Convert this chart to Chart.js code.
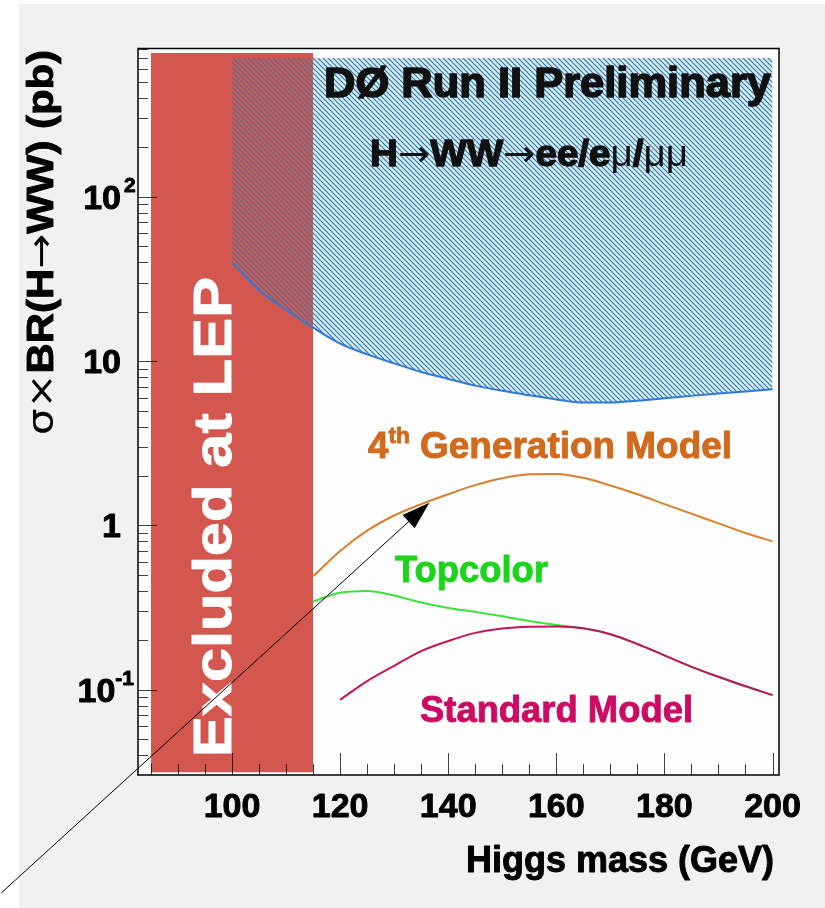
<!DOCTYPE html>
<html>
<head>
<meta charset="utf-8">
<script src="https://cdn.jsdelivr.net/npm/chart.js@4/dist/chart.umd.min.js"></script>
<style>
html, body { margin: 0; padding: 0; background: #fff; }
#wrap { position: absolute; left: 0; top: 0; width: 825px; height: 908px; }
</style>
</head>
<body>
<div id="wrap"><canvas id="higgsChart" width="825" height="908"></canvas></div>
<script>
// values (GeV, pb)
const limitMass = [100, 105, 110, 115, 120, 125, 130, 135, 140, 145, 150, 155, 160, 165, 170, 175, 180, 185, 190, 195, 200];
const limitXsec = [40, 27, 20.5, 16, 12.8, 11.0, 9.7, 8.6, 7.8, 7.1, 6.6, 6.2, 5.85, 5.6, 5.6, 5.75, 5.95, 6.15, 6.35, 6.55, 6.75];
const hatchTop = 700;

const lepMass = [85, 115];
const lepTop = 750;
const lepBottom = 0.0315;

const fourthGenMass = [115, 120, 125, 130, 135, 140, 145, 150, 155, 160, 165, 170, 175, 180, 185, 190, 195, 200];
const fourthGenXsec = [0.49, 0.70, 0.93, 1.15, 1.35, 1.55, 1.76, 1.94, 2.05, 2.06, 1.95, 1.75, 1.55, 1.35, 1.18, 1.03, 0.90, 0.80];

const topcolorMass = [115, 120, 125, 130, 135, 140, 145, 150, 155, 160, 165, 170, 175, 180, 185, 190, 195, 200];
const topcolorXsec = [0.345, 0.39, 0.40, 0.375, 0.34, 0.315, 0.298, 0.28, 0.262, 0.248, 0.237, 0.218, 0.19, 0.162, 0.138, 0.12, 0.105, 0.093];

const smMass = [120, 125, 130, 135, 140, 145, 150, 155, 160, 165, 170, 175, 180, 185, 190, 195, 200];
const smXsec = [0.087, 0.113, 0.14, 0.172, 0.198, 0.222, 0.236, 0.242, 0.243, 0.237, 0.218, 0.19, 0.162, 0.138, 0.12, 0.105, 0.093];

const xTickValues = [100, 120, 140, 160, 180, 200];
const xTickLabels = ['100', '120', '140', '160', '180', '200'];
const yTickValues = [0.1, 1, 10, 100];
const yTickBases = ['10', '1', '10', '10'];
const yTickExps = ['-1', '', '', '2'];

// arrow from the page corner up to the 4th generation curve
const arrowFrom = { x: 57.3, y: 0.0058 };
const arrowTo = { x: 136.5, y: 1.375 };

const FONT = '"Liberation Sans", Arial, sans-serif';
const SYM = '"DejaVu Sans", sans-serif';

function toPoints(xs, ys) {
    return xs.map((x, i) => ({ x, y: ys[i] }));
}

function makeHatch() {
    const c = document.createElement('canvas');
    c.width = 5;
    c.height = 5;
    const g = c.getContext('2d');
    g.strokeStyle = '#3f71a0';
    g.lineWidth = 1.2;
    g.beginPath();
    [-5, 0, 5].forEach(dx => {
        g.moveTo(dx - 1, -1);
        g.lineTo(dx + 6, 6);
    });
    g.stroke();
    return g.createPattern(c, 'repeat');
}

// runs: [text, bold, sizeFactor, raise, family]
function drawRuns(c, runs, x, y, size, color, opts = {}) {
    c.save();
    c.fillStyle = color;
    c.strokeStyle = color;
    c.lineJoin = 'round';
    c.textBaseline = 'alphabetic';
    const fontOf = r => `${r[1] ? 'bold' : 'normal'} ${Math.round(size * (r[2] || 1))}px ${r[4] || FONT}`;
    let total = 0;
    const widths = runs.map(r => {
        c.font = fontOf(r);
        const w = c.measureText(r[0]).width;
        total += w;
        return w;
    });
    c.translate(x, y);
    if (opts.rotate) c.rotate(opts.rotate);
    const sx = opts.width ? opts.width / total : 1;
    c.scale(sx, 1);
    let cx = opts.align === 'right' ? -total : opts.align === 'center' ? -total / 2 : 0;
    runs.forEach((r, i) => {
        c.font = fontOf(r);
        c.fillText(r[0], cx, -(r[3] || 0));
        if (r[1] && opts.heavy !== false) {
            // ROOT's helvetica bold is a bit heavier
            c.lineWidth = opts.heavy || 0.9;
            c.strokeText(r[0], cx, -(r[3] || 0));
        }
        cx += widths[i];
    });
    c.restore();
}

const pageBackground = {
    id: 'pageBackground',
    beforeDraw(chart) {
        const c = chart.ctx;
        const a = chart.chartArea;
        c.save();
        c.fillStyle = '#ffffff';
        c.fillRect(0, 0, chart.width, chart.height);
        c.fillStyle = '#f1f1f1';
        c.fillRect(19, 4, chart.width - 19, chart.height - 4);
        c.fillStyle = '#fdfdfd';
        c.fillRect(a.left, a.top, a.right - a.left, a.bottom - a.top);
        c.restore();
    }
};

const rootAxes = {
    id: 'rootAxes',
    afterDatasetsDraw(chart) {
        const c = chart.ctx;
        const a = chart.chartArea;
        const xs = chart.scales.x;
        const ys = chart.scales.y;

        // in-plot texts
        drawRuns(c, [['Excluded at LEP', true]], 231, 517, 54, '#ffffff', { rotate: -Math.PI / 2, align: 'center', width: 480 });
        drawRuns(c, [['DØ Run II Preliminary', true]], 324, 97, 43, '#111111', { width: 447, heavy: 1.6 });
        drawRuns(c, [['H', true], ['\u2192', false, 1, 0, SYM], ['WW', true], ['\u2192', false, 1, 0, SYM], ['ee/e', true], ['\u03bc', false], ['/', true], ['\u03bc\u03bc', false]],
            370, 166, 36, '#111111', { width: 318, heavy: 1.3 });
        drawRuns(c, [['4', true], ['th', true, 0.6, 15], [' Generation Model', true]], 368, 458, 36, '#d06a1c', { width: 364 });
        drawRuns(c, [['Topcolor', true]], 395, 582, 36, '#1ed31e', { width: 153 });
        drawRuns(c, [['Standard Model', true]], 420, 722, 36, '#cc0b62', { width: 273 });

        c.save();
        c.strokeStyle = 'rgba(0,0,0,0.75)';
        c.lineWidth = 1;
        c.beginPath();
        // x ticks, inside the frame
        for (let m = 85; m <= 200; m += 5) {
            const px = Math.round(xs.getPixelForValue(m)) + 0.5;
            const len = xTickValues.includes(m) ? 22 : 11;
            c.moveTo(px, a.bottom);
            c.lineTo(px, a.bottom - len);
        }
        // y ticks
        for (let d = -2; d <= 2; d++) {
            for (let m = 1; m <= 9; m++) {
                const v = m * Math.pow(10, d);
                if (v < ys.min || v > ys.max) continue;
                const py = Math.round(ys.getPixelForValue(v)) + 0.5;
                c.moveTo(a.left, py);
                c.lineTo(a.left + (m === 1 ? 19 : 10), py);
            }
        }
        c.stroke();

        c.strokeStyle = '#000';
        c.lineWidth = 1.5;
        c.strokeRect(a.left, a.top, a.right - a.left, a.bottom - a.top);
        c.restore();

        // tick labels
        xTickValues.forEach((v, i) => {
            drawRuns(c, [[xTickLabels[i], true]], xs.getPixelForValue(v), 817, 34, '#000', { align: 'center' });
        });
        yTickValues.forEach((v, i) => {
            const py = ys.getPixelForValue(v) + 12;
            const base = yTickBases[i];
            const exp = yTickExps[i];
            if (!exp) {
                drawRuns(c, [[base, true]], 121, py, 34, '#000', { align: 'right' });
            } else if (exp.length > 1) {
                drawRuns(c, [[base, true], [exp, true, 0.62, 17]], 134, py, 34, '#000', { align: 'right' });
            } else {
                drawRuns(c, [[base, true]], 121, py, 34, '#000', { align: 'right' });
                drawRuns(c, [[exp, true, 0.62, 17]], 124, py, 34, '#000');
            }
        });

        // axis titles
        drawRuns(c, [['Higgs mass (GeV)', true]], 774, 872, 36, '#000', { align: 'right' });
        drawRuns(c, [['\u03c3', false, 1, 0, SYM], ['\u00d7', false, 1, 0, SYM], ['BR(H', true], ['\u2192', false, 1, 0, SYM], ['WW) (pb)', true]],
            53, 50, 36, '#000', { rotate: -Math.PI / 2, align: 'right', width: 385 });
    },
    afterDraw(chart) {
        const c = chart.ctx;
        const xs = chart.scales.x;
        const ys = chart.scales.y;
        const x0 = xs.getPixelForValue(arrowFrom.x);
        const y0 = ys.getPixelForValue(arrowFrom.y);
        const x1 = xs.getPixelForValue(arrowTo.x);
        const y1 = ys.getPixelForValue(arrowTo.y);
        const ang = Math.atan2(y1 - y0, x1 - x0);
        c.save();
        c.strokeStyle = '#000';
        c.fillStyle = '#000';
        c.lineWidth = 1;
        c.beginPath();
        c.moveTo(x0, y0);
        c.lineTo(x1 - 20 * Math.cos(ang), y1 - 20 * Math.sin(ang));
        c.stroke();
        c.translate(x1, y1);
        c.rotate(ang);
        c.beginPath();
        c.moveTo(0, 0);
        c.lineTo(-28, -9);
        c.lineTo(-28, 9);
        c.closePath();
        c.fill();
        c.restore();
    }
};

const chartCtx = document.getElementById('higgsChart');
const hatch = makeHatch();

const higgsChart = new Chart(chartCtx, {
    type: 'line',
    data: {
        datasets: [
            {
                label: 'excluded (fill)',
                data: toPoints(limitMass, limitXsec),
                fill: { value: hatchTop },
                backgroundColor: '#d0f0fc',
                borderWidth: 0,
                cubicInterpolationMode: 'monotone',
                order: 10
            },
            {
                label: 'Excluded at LEP',
                data: toPoints(lepMass, [lepTop, lepTop]),
                fill: { value: lepBottom },
                backgroundColor: '#d4574f',
                borderWidth: 0,
                tension: 0,
                order: 9
            },
            {
                label: 'DØ limit',
                data: toPoints(limitMass, limitXsec),
                fill: { value: hatchTop },
                backgroundColor: hatch,
                borderColor: '#2f79d4',
                borderWidth: 2,
                cubicInterpolationMode: 'monotone',
                order: 8
            },
            {
                label: '4th Generation Model',
                data: toPoints(fourthGenMass, fourthGenXsec),
                borderColor: '#d8802e',
                borderWidth: 2,
                fill: false,
                cubicInterpolationMode: 'monotone',
                order: 4
            },
            {
                label: 'Topcolor',
                data: toPoints(topcolorMass, topcolorXsec),
                borderColor: '#3ee03e',
                borderWidth: 2,
                fill: false,
                cubicInterpolationMode: 'monotone',
                order: 3
            },
            {
                label: 'Standard Model',
                data: toPoints(smMass, smXsec),
                borderColor: '#c4145f',
                borderWidth: 2,
                fill: false,
                cubicInterpolationMode: 'monotone',
                order: 2
            }
        ]
    },
    options: {
        responsive: false,
        animation: false,
        events: [],
        layout: { padding: { left: 138, right: 46, top: 48.5, bottom: 133 } },
        elements: { point: { radius: 0 } },
        plugins: {
            legend: { display: false },
            tooltip: { enabled: false }
        },
        scales: {
            x: { type: 'linear', min: 82.6, max: 201.2, display: false },
            y: { type: 'logarithmic', min: 0.0303, max: 800, display: false }
        }
    },
    plugins: [pageBackground, rootAxes]
});
</script>
</body>
</html>
